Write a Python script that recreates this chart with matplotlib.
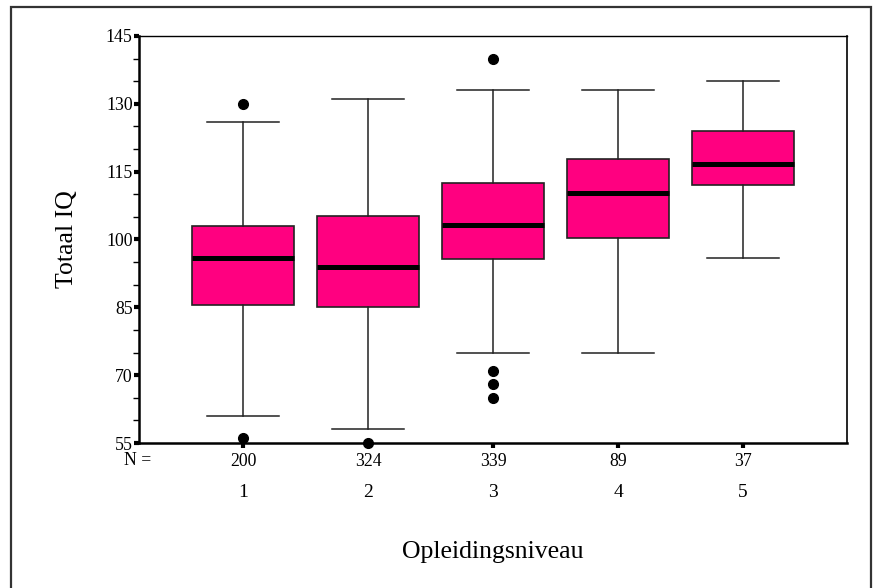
import matplotlib

matplotlib.use("Agg")
import matplotlib.pyplot as plt
import matplotlib.transforms as mtransforms
from matplotlib.patches import Rectangle

plt.rcParams["font.family"] = ["Liberation Serif", "DejaVu Serif"]

# education level categories and group sizes
levels = ["1", "2", "3", "4", "5"]
counts = ["200", "324", "339", "89", "37"]

# box summary per level
q1 = [85.5, 85, 95.7, 100.3, 112]
median = [95.8, 94, 103.2, 110.2, 116.8]
q3 = [102.9, 105.2, 112.5, 117.8, 124]
whisker_low = [61, 58, 75, 75, 96]
whisker_high = [126, 131, 133, 133, 135]
outliers = [[130, 56], [55], [140, 71, 68, 65], [], []]

PINK = "#FF0080"

stats = []
for i in range(len(levels)):
    stats.append({
        "med": median[i], "q1": q1[i], "q3": q3[i],
        "whislo": whisker_low[i], "whishi": whisker_high[i],
        "fliers": outliers[i], "label": counts[i],
    })

fig = plt.figure(figsize=(8.74, 5.88), dpi=100)
ax = fig.add_axes([139 / 874, 1 - 443 / 588, 708 / 874, 407 / 588])

positions = list(range(1, len(levels) + 1))
ax.bxp(
    stats, positions=positions, widths=0.81, patch_artist=True,
    boxprops=dict(facecolor=PINK, edgecolor="#222222", linewidth=1.2),
    medianprops=dict(color="black", linewidth=3.6, solid_capstyle="butt"),
    whiskerprops=dict(color="#222222", linewidth=1.1),
    capprops=dict(color="#222222", linewidth=1.1),
    capwidths=0.57,
    flierprops=dict(marker="o", markerfacecolor="black", markeredgecolor="black",
                    markersize=7, clip_on=False),
)

ax.set_xlim(0.168, 5.832)
ax.set_ylim(55, 145)
ax.set_yticks([55, 70, 85, 100, 115, 130, 145])
ax.set_yticks(range(55, 146, 5), minor=True)
ax.tick_params(axis="y", which="major", direction="out", length=3.5, width=3,
               labelsize=12.8, pad=1, color="black")
ax.tick_params(axis="y", which="minor", direction="out", length=4, width=1)
ax.set_xticks(positions)
ax.set_xticklabels(counts)
ax.tick_params(axis="x", which="major", direction="out", length=3.5, width=3,
               labelsize=12.8, pad=3.5)

for side, lw in [("left", 1.8), ("bottom", 1.8), ("top", 1.0), ("right", 1.2)]:
    ax.spines[side].set_linewidth(lw)
    ax.spines[side].set_color("black")

trans = mtransforms.blended_transform_factory(ax.transData, ax.transAxes)
for pos, lab in zip(positions, levels):
    ax.text(pos, -0.121, lab, transform=trans, ha="center", va="center", fontsize=14)
ax.text(-0.002, -0.042, "N =", transform=ax.transAxes, ha="center", va="center", fontsize=12.8)

ax.text(0.5, -0.268, "Opleidingsniveau", transform=ax.transAxes,
        ha="center", va="center", fontsize=18.5)
ax.text(-0.1017, 0.5, "Totaal IQ", transform=ax.transAxes, rotation=90,
        ha="center", va="center", fontsize=18.5)

# outer frame around the chart, open at the bottom edge of the image
frame = Rectangle((11 / 874, -0.05), 860 / 874, 1.05 - 7 / 588,
                  transform=fig.transFigure, fill=False, edgecolor="#333333",
                  linewidth=1.6, clip_on=False)
fig.patches.append(frame)

fig.savefig("out.png", dpi=100)
